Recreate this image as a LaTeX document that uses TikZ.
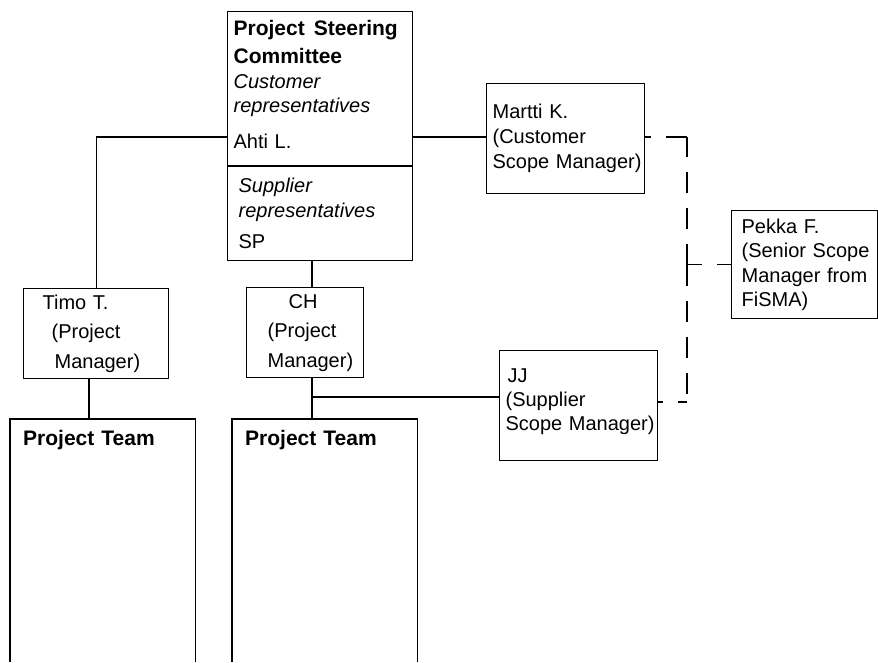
\documentclass[tikz,border=0pt]{standalone}
\usepackage{fontspec}
\setmainfont{Liberation Sans}
\usetikzlibrary{positioning}

\newcommand\orgfont{\fontsize{20}{25}\selectfont\hyphenpenalty=10000}
\newcommand\headfont{\fontsize{21}{25}\selectfont\bfseries}
\newcommand\lowerby[1]{\rule[-#1]{0pt}{#1}}

\tikzset{
	orgbox/.style={draw, line width=1.2pt, rectangle, anchor=north west,
		align=left, inner ysep=0pt, font=\orgfont},
	teambox/.style={anchor=north west, align=left, inner xsep=13pt,
		inner ysep=11pt, text width=159pt, font=\headfont},
	link/.style={line width=1.2pt},
	scopelink/.style={line width=1.2pt, dash pattern=on 21pt off 15pt}
}

\begin{document}
\begin{tikzpicture}[x=1pt,y=-1pt]
	\useasboundingbox (0,0) rectangle (878,662);
	\coordinate (floor) at (0,662);

	% steering committee
	\node[orgbox, inner xsep=6pt, text width=173pt, minimum height=154pt]
		(psc) at (227,11)
		{{\headfont Project\hspace{9pt}Steering}\\[3pt]
		 {\headfont Committee}\\
		 \textit{Customer}\\[-1pt]
		 \textit{representatives}\\[11pt]
		 Ahti L.\lowerby{8pt}};
	\node[orgbox, inner xsep=11pt, text width=163pt, minimum height=94pt,
		below=0pt of psc]
		(psc2)
		{\textit{Supplier}\\
		 \textit{representatives}\\[6pt]
		 SP};

	% scope managers
	\node[orgbox, inner xsep=6pt, text width=146pt, minimum height=110pt]
		(martti) at (486,83)
		{Martti K.\\(Customer\\\mbox{Scope Manager)}};
	\node[orgbox, inner xsep=10pt, text width=126pt, minimum height=108pt]
		(pekka) at (731,210)
		{Pekka F.\\[-1pt]\mbox{(Senior Scope}\\Manager from\\[-1pt]FiSMA)};
	\node[orgbox, inner xsep=6pt, text width=146pt, minimum height=110pt]
		(jj) at (499,350)
		{\hspace*{2pt}JJ\\[-1pt](Supplier\\[-1pt]\mbox{Scope Manager)}\lowerby{12pt}};

	% project managers
	\node[orgbox, inner xsep=28pt, text width=89pt, minimum height=90pt,
		font=\fontsize{20}{29.5}\selectfont]
		(timo) at (23,288)
		{\hspace*{-9pt}Timo T.\\(Project\\\hspace*{3pt}Manager)};
	\node[orgbox, inner xsep=21pt, text width=75pt, minimum height=90pt,
		font=\fontsize{20}{29.5}\selectfont]
		(ch) at (246,287)
		{\hspace*{21pt}CH\\(Project\\Manager)};

	% project teams, open at the bottom
	\node[teambox] (pt1) at (10,419) {Project Team};
	\node[teambox] (pt2) at (232,419) {Project Team};
	\draw[link] (pt1.west |- floor) -- (pt1.north west) -- (pt1.north east)
		-- (pt1.east |- floor);
	\draw[link] (pt2.west |- floor) -- (pt2.north west) -- (pt2.north east)
		-- (pt2.east |- floor);

	% reporting lines
	\coordinate (dtop) at (687,137);
	\coordinate (dbot) at (687,402);
	\coordinate (dmid) at (dtop |- pekka.west);
	\coordinate (ptx) at (89,0);
	\coordinate (chx) at (312,0);
	\coordinate (jjtap) at (312,397);
	\draw[link] (psc.west |- dtop) -| (timo.north);
	\draw[link] (psc.east |- dtop) -- (martti.west |- dtop);
	\draw[link] (psc2.south -| chx) -- (ch.north -| chx);
	\draw[link] (timo.south -| ptx) -- (pt1.north -| ptx);
	\draw[link] (ch.south -| chx) -- (pt2.north -| chx);
	\draw[link] (jjtap) -- (jj.west |- jjtap);

	% scope management
	\draw[scopelink] (dmid) -- (dtop);
	\draw[scopelink] (dtop) -- (martti.east |- dtop);
	\draw[scopelink] (dmid) -- (dbot);
	\draw[scopelink, dash phase=12pt] (dbot) -- (jj.east |- dbot);
	\draw[scopelink, dash phase=6pt] (dmid) -- (pekka.west);
\end{tikzpicture}
\end{document}
